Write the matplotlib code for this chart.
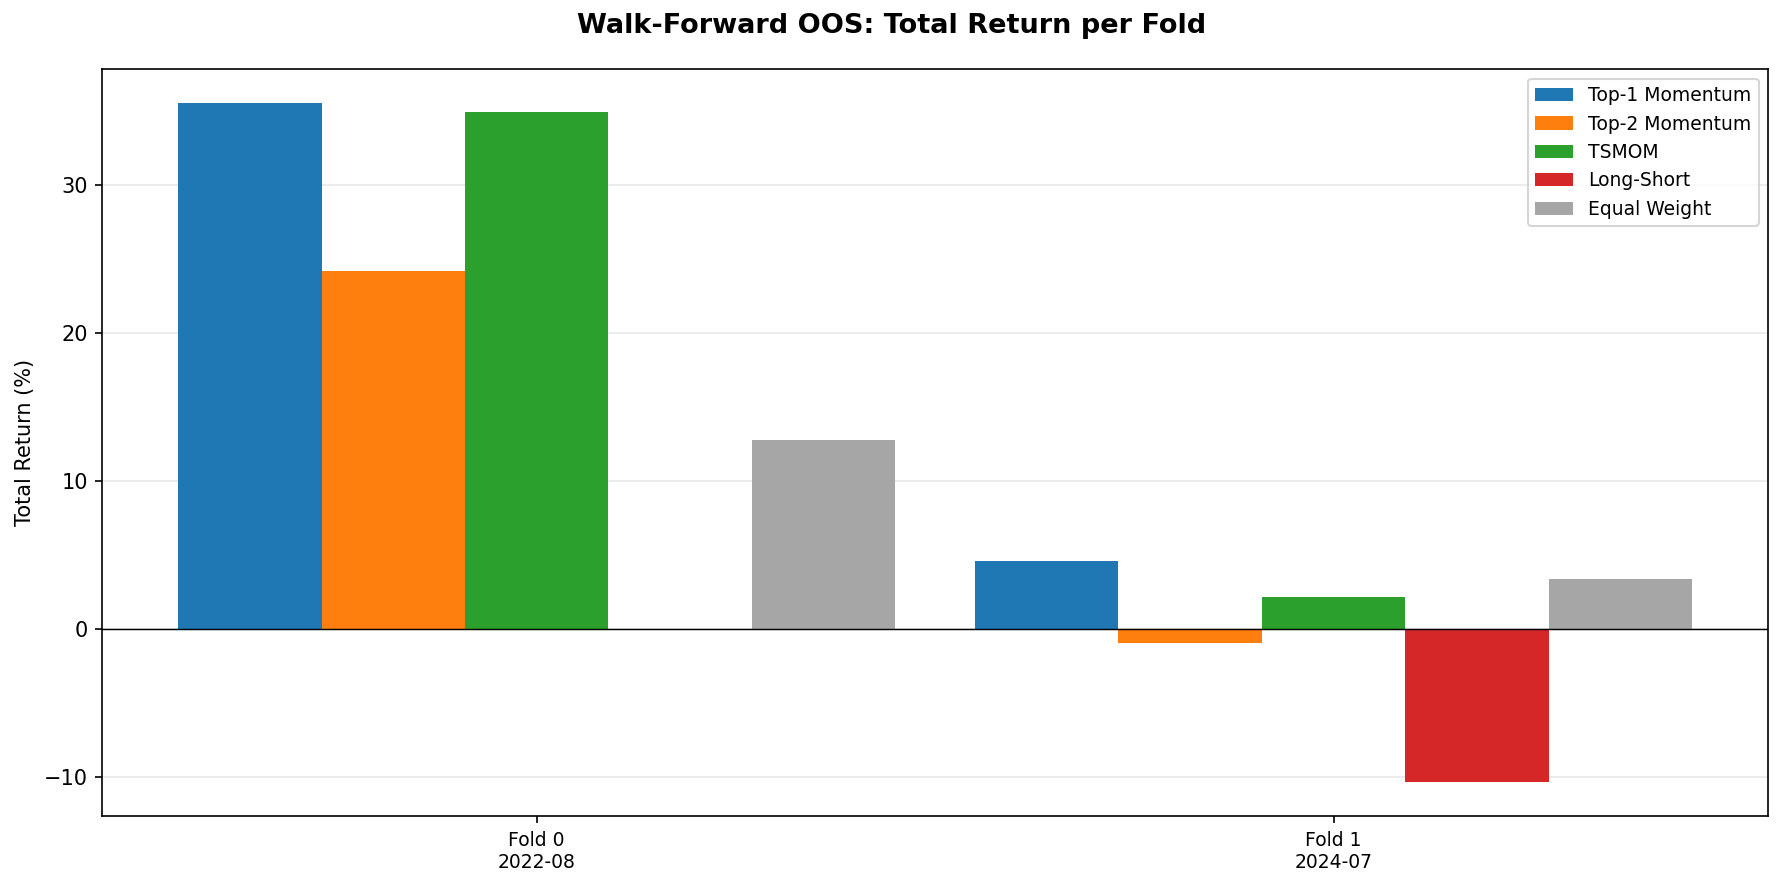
import numpy as np
from matplotlib import pyplot as plt

folds = ["Fold 0\n2022-08", "Fold 1\n2024-07"]
strategies = ["Top-1 Momentum", "Top-2 Momentum", "TSMOM", "Long-Short", "Equal Weight"]
colors = ["#1f77b4", "#ff7f0e", "#2ca02c", "#d62728", "#a6a6a6"]

top1 = [35.5, 4.55]
top2 = [24.15, -1.0]
tsmom = [34.9, 2.15]
long_short = [0.0, -10.38]
equal_weight = [12.77, 3.38]
returns = [top1, top2, tsmom, long_short, equal_weight]

fig, ax = plt.subplots(figsize=(11.893, 5.92), dpi=150)
x = np.arange(len(folds))
width = 0.18
for i, (name, vals) in enumerate(zip(strategies, returns)):
    ax.bar(x + (i - 2) * width, vals, width, label=name, color=colors[i])

ax.axhline(0, color='black', linewidth=0.7)
ax.set_xticks(x)
ax.set_xticklabels(folds, fontsize=9)
ax.set_ylabel('Total Return (%)')
ax.grid(axis='y', alpha=0.3)
ax.set_axisbelow(True)
ax.legend(fontsize=9, loc='upper right')
fig.suptitle('Walk-Forward OOS: Total Return per Fold', fontsize=13, fontweight='bold', y=0.985)
fig.subplots_adjust(left=0.0574, right=0.991, top=0.922, bottom=0.081)
fig.savefig('out.png', dpi=150)
